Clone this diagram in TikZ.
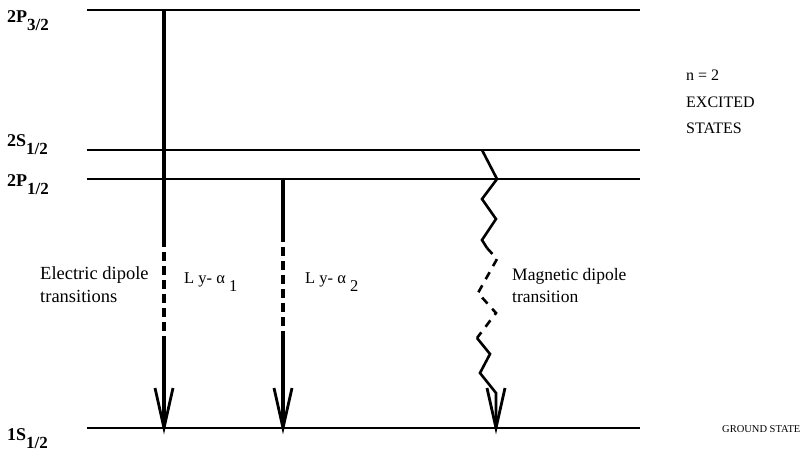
\documentclass[tikz,border=0pt]{standalone}
\usepackage{fontspec}
\setmainfont{Liberation Serif}
\usetikzlibrary{calc}
\begin{document}
\begin{tikzpicture}[x=1pt,y=-1pt,
  level/.style={line width=1.4pt},
  trans/.style={line width=3.2pt},
  transdash/.style={line width=3.2pt, dash pattern=on 9pt off 5pt},
  zig/.style={line width=2.6pt, line join=miter, miter limit=10},
  zigdash/.style={line width=2.6pt, dash pattern=on 8pt off 7pt},
  head/.style={line width=2.8pt, line join=miter, miter limit=20},
  state/.style={inner sep=0pt, anchor=base west, font=\fontsize{18}{20}\selectfont\bfseries},
  txt/.style={inner sep=0pt, anchor=base west, font=\fontsize{18.5}{20}\selectfont},
  side/.style={inner sep=0pt, anchor=base west, font=\fontsize{16}{18}\selectfont},
  small/.style={inner sep=0pt, anchor=base west, font=\fontsize{10.5}{12}\selectfont}]
\useasboundingbox (0,0) rectangle (804,453);
% levels
\coordinate (p3l) at (87,10);  \coordinate (p3r) at (640,10);
\coordinate (s2l) at (87,150); \coordinate (s2r) at (640,150);
\coordinate (p1l) at (87,179); \coordinate (p1r) at (640,179);
\coordinate (s1l) at (87,428); \coordinate (s1r) at (640,428);
\draw[level] (p3l) -- (p3r);
\draw[level] (s2l) -- (s2r);
\draw[level] (p1l) -- (p1r);
\draw[level] (s1l) -- (s1r);
% state labels
\node[state] (lp3) at (7,22) {2P\raisebox{-0.45em}{\fontsize{17}{19}\selectfont 3/2}};
\node[state] (ls2) at (7,146) {2S\raisebox{-0.45em}{\fontsize{17}{19}\selectfont 1/2}};
\node[state] (lp1) at (7,186) {2P\raisebox{-0.45em}{\fontsize{17}{19}\selectfont 1/2}};
\node[state] (ls1) at (7,440) {1S\raisebox{-0.45em}{\fontsize{17}{19}\selectfont 1/2}};
% Ly-alpha 1
\coordinate (a1t) at (164,10);
\coordinate (a1d) at (164,238);
\coordinate (a1e) at (164,343);
\coordinate (a1b) at (164,428);
\draw[trans] (a1t) -- (a1d);
\draw[transdash] (a1d) -- (a1e);
\draw[trans] (a1e) -- ($(a1b)+(0,-6)$);
\draw[head] ($(a1b)+(-9,-40)$) -- (a1b) -- ($(a1b)+(9,-40)$);
% Ly-alpha 2
\coordinate (a2t) at (283,179);
\coordinate (a2d) at (283,233);
\coordinate (a2e) at (283,336);
\coordinate (a2b) at (283,428);
\draw[trans] (a2t) -- (a2d);
\draw[transdash] (a2d) -- (a2e);
\draw[trans] (a2e) -- ($(a2b)+(0,-6)$);
\draw[head] ($(a2b)+(-9,-40)$) -- (a2b) -- ($(a2b)+(9,-40)$);
% magnetic dipole zigzag
\coordinate (z0) at (482,150);
\coordinate (z1) at (497,179);
\coordinate (z2) at (482,199);
\coordinate (z3) at (496,219);
\coordinate (z4) at (482,240);
\coordinate (z5) at (487,248);
\coordinate (z6) at (497,259);
\coordinate (z7) at (478,293);
\coordinate (z8) at (496,313);
\coordinate (z9) at (477,338);
\coordinate (z10) at (490,354);
\coordinate (z11) at (480,373);
\coordinate (z12) at (496,393);
\coordinate (zb) at (496,428);
\draw[zig] (z0) -- (z1) -- (z2) -- (z3) -- (z4) -- (z5);
\draw[zigdash] (z5) -- (z6) -- (z7) -- (z8) -- (z9);
\draw[zig] (z9) -- (z10) -- (z11) -- (z12) -- ($(zb)+(0,-6)$);
\draw[head] ($(zb)+(-9,-40)$) -- (zb) -- ($(zb)+(9,-40)$);
% texts
\node[txt] (ed1) at (40,279) {Electric dipole};
\node[txt] (ed2) at (40,302) {transitions};
\node[txt, font=\fontsize{16.5}{18}\selectfont] (ly1) at (184,283) {L y- α \raisebox{-0.5em}{1}};
\node[txt, font=\fontsize{16.5}{18}\selectfont] (ly2) at (305,283) {L y- α \raisebox{-0.5em}{2}};
\node[txt, font=\fontsize{17.5}{19}\selectfont] (md1) at (512,280) {Magnetic dipole};
\node[txt, font=\fontsize{17.5}{19}\selectfont] (md2) at (512,302) {transition};
\node[side] (n2) at (686,80) {n = 2};
\node[side] (ex) at (686,107) {EXCITED};
\node[side] (st) at (686,133) {STATES};
\node[small] (gs) at (722,432) {GROUND STATE};
\end{tikzpicture}
\end{document}
